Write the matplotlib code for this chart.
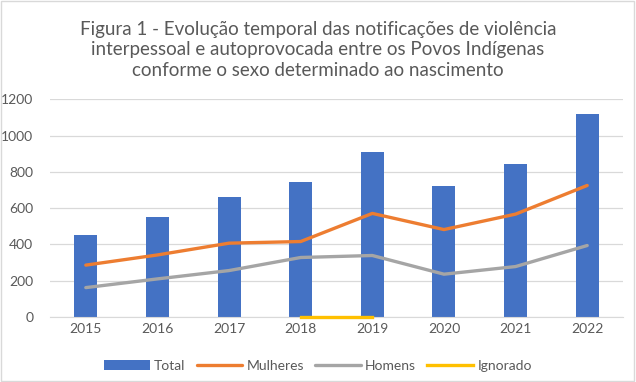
import numpy as np
import matplotlib
matplotlib.use('Agg')
import matplotlib.pyplot as plt

plt.rcParams['font.family'] = ['Lato', 'DejaVu Sans']

anos = ['2015', '2016', '2017', '2018', '2019', '2020', '2021', '2022']
total = [451, 552, 661, 746, 910, 720, 845, 1121]
mulheres = [286, 342, 407, 416, 571, 482, 567, 725]
homens = [162, 210, 256, 328, 339, 236, 278, 394]
ignorado = [np.nan, np.nan, np.nan, 0, 0, np.nan, np.nan, np.nan]

titulo = ('Figura 1 - Evolução temporal das notificações de violência\n'
          'interpessoal e autoprovocada entre os Povos Indígenas\n'
          'conforme o sexo determinado ao nascimento')

fig = plt.figure(figsize=(6.36, 3.82), dpi=100)
ax = fig.add_axes([50/636, 1 - 317/382, 573/636, (317 - 99.3)/382])

x = np.arange(len(anos))
barras = ax.bar(x, total, width=0.32, color='#4472C4', label='Total', zorder=2)
l1, = ax.plot(x, mulheres, color='#ED7D31', lw=2.4, label='Mulheres', zorder=3, solid_capstyle='round')
l2, = ax.plot(x, homens, color='#A5A5A5', lw=2.4, label='Homens', zorder=3, solid_capstyle='round')
l3, = ax.plot(x, ignorado, color='#FFC000', lw=2.4, label='Ignorado', zorder=5, clip_on=False)

ax.set_xlim(-0.5, len(anos) - 0.5)
ax.set_ylim(0, 1200)
ax.set_yticks(range(0, 1201, 200))
ax.set_xticks(x)
ax.set_xticklabels(anos)
ax.grid(axis='y', color='#D9D9D9', lw=0.9, zorder=0)
ax.set_axisbelow(True)
for s in ['top', 'right', 'left']:
    ax.spines[s].set_visible(False)
ax.spines['bottom'].set_color('#D9D9D9')
ax.tick_params(length=0, labelsize=10, colors='#595959', pad=4)
ax.tick_params(axis='y', pad=12)

fig.text(0.5, 1 - 21/382, titulo, ha='center', va='top', fontsize=13.5,
         color='#595959', linespacing=1.25)

fig.legend([barras, l1, l2, l3], ['Total', 'Mulheres', 'Homens', 'Ignorado'],
           loc='center', bbox_to_anchor=(0.5, 1 - 366/382), ncol=4, frameon=False,
           fontsize=10, labelcolor='#595959', handlelength=3.3, handletextpad=0.3,
           columnspacing=0.8)

# borda da figura
fig.patches.append(plt.Rectangle((0.002, 0.003), 0.995, 0.994, transform=fig.transFigure,
                                 fill=False, edgecolor='#D9D9D9', lw=1))

fig.savefig('out.png', dpi=100)
